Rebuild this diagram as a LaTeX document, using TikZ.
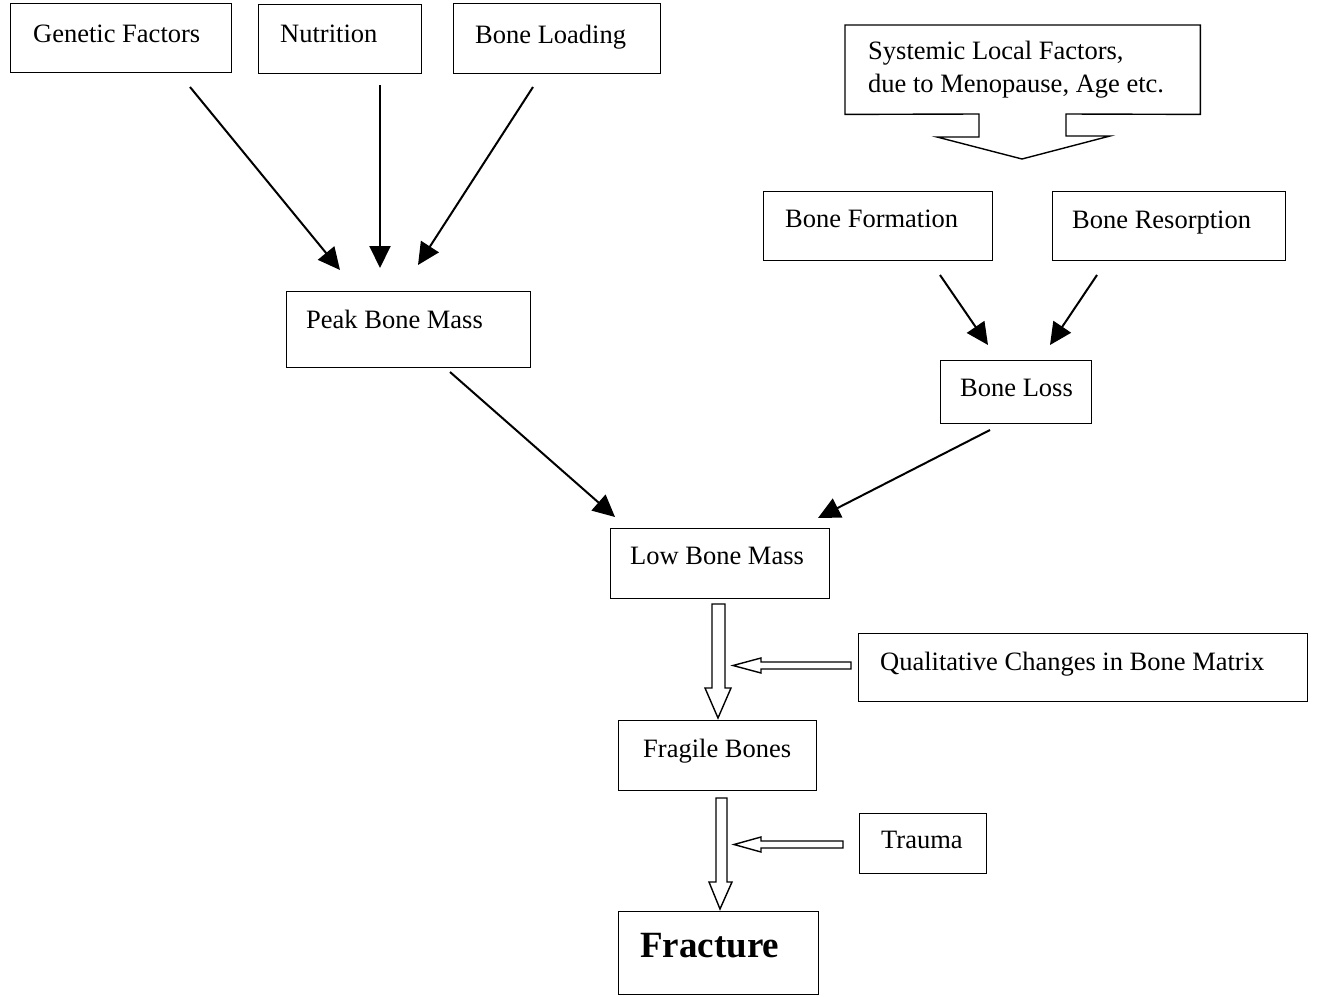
\documentclass[tikz,border=0pt]{standalone}
\usepackage{fontspec}
\setmainfont{Liberation Serif}
\usetikzlibrary{arrows.meta}
\tikzset{
  box/.style={draw, line width=1.4pt, inner sep=0pt, anchor=north west},
  txt/.style={anchor=base west, inner sep=0pt, font=\fontsize{26.5}{31}\selectfont},
  bigtxt/.style={anchor=base west, inner sep=0pt, font=\fontsize{37}{42}\selectfont\bfseries},
  arr/.style={line width=2pt, -{Triangle[length=22pt,width=21pt]}},
  hollow/.style={draw, line width=1.4pt, fill=white, line join=miter}
}
\newcommand{\bx}[5]{\node[box, minimum width=#3-#1, minimum height=#4-#2] (#5) at (#1,#2) {};}
\begin{document}
\begin{tikzpicture}[x=1pt,y=-1pt]
\useasboundingbox (0,0) rectangle (1317,996);
% boxes
\bx{10}{3}{231}{72}{gen}
\bx{258}{4}{421}{73}{nut}
\bx{453}{3}{660}{73}{load}
\bx{763}{191}{992}{260}{form}
\bx{1052}{191}{1285}{260}{res}
\bx{286}{291}{530}{367}{peak}
\bx{940}{360}{1091}{423}{loss}
\bx{610}{528}{829}{598}{low}
\bx{858}{633}{1307}{701}{qual}
\bx{618}{720}{816}{790}{frag}
\bx{859}{813}{986}{873}{trauma}
\bx{618}{911}{818}{994}{frac}
% systemic callout
\node[inner sep=0pt, minimum width=355pt, minimum height=89pt, anchor=north west] (sys) at (845,25) {};
\draw[line width=1.4pt, line join=miter] (sys.south west) -- (sys.north west) -- (sys.north east) -- (sys.south east)
  -- (1066,114) -- (1066,136) -- (1110,136) -- (1022,159) -- (937,137) -- (979,137) -- (979,114) -- cycle;
% texts
\node[txt] at (33,42) {Genetic Factors};
\node[txt] at (280,42) {Nutrition};
\node[txt] at (475,43) {Bone Loading};
\node[txt] at (868,59) {Systemic Local Factors,};
\node[txt] at (868,92) {due to Menopause, Age etc.};
\node[txt] at (785,227) {Bone Formation};
\node[txt] at (1072,228) {Bone Resorption};
\node[txt] at (306,328) {Peak Bone Mass};
\node[txt] at (960,396) {Bone Loss};
\node[txt] at (630,564) {Low Bone Mass};
\node[txt] at (880,670) {Qualitative Changes in Bone Matrix};
\node[txt] at (643,757) {Fragile Bones};
\node[txt] at (881,848) {Trauma};
\node[bigtxt] at (640,957) {Fracture};
% arrow ends
\coordinate (g1) at (190,87);   \coordinate (g2) at (340,270);
\coordinate (n1) at (380,85);   \coordinate (n2) at (380,268);
\coordinate (l1) at (533,87);   \coordinate (l2) at (418,265);
\coordinate (p1) at (450,372);  \coordinate (p2) at (615,517);
\coordinate (s1) at (990,430);  \coordinate (s2) at (818,518);
\coordinate (f1) at (940,275);  \coordinate (f2) at (988,345);
\coordinate (r1) at (1097,275); \coordinate (r2) at (1050,345);
\draw[arr] (g1) -- (g2);
\draw[arr] (n1) -- (n2);
\draw[arr] (l1) -- (l2);
\draw[arr] (p1) -- (p2);
\draw[arr] (s1) -- (s2);
\draw[arr] (f1) -- (f2);
\draw[arr] (r1) -- (r2);
% hollow block arrows
\draw[hollow] (712,604) -- (725,604) -- (725,688) -- (731,688) -- (718,718) -- (705,688) -- (712,688) -- cycle;
\draw[hollow] (716,798) -- (727,798) -- (727,882) -- (732,882) -- (720,909) -- (709,882) -- (716,882) -- cycle;
\draw[hollow] (851,662) -- (761,662) -- (761,658) -- (733,665.5) -- (761,673) -- (761,669) -- (851,669) -- cycle;
\draw[hollow] (843,841) -- (761,841) -- (761,837) -- (734,844.5) -- (761,852) -- (761,848) -- (843,848) -- cycle;
\end{tikzpicture}
\end{document}
